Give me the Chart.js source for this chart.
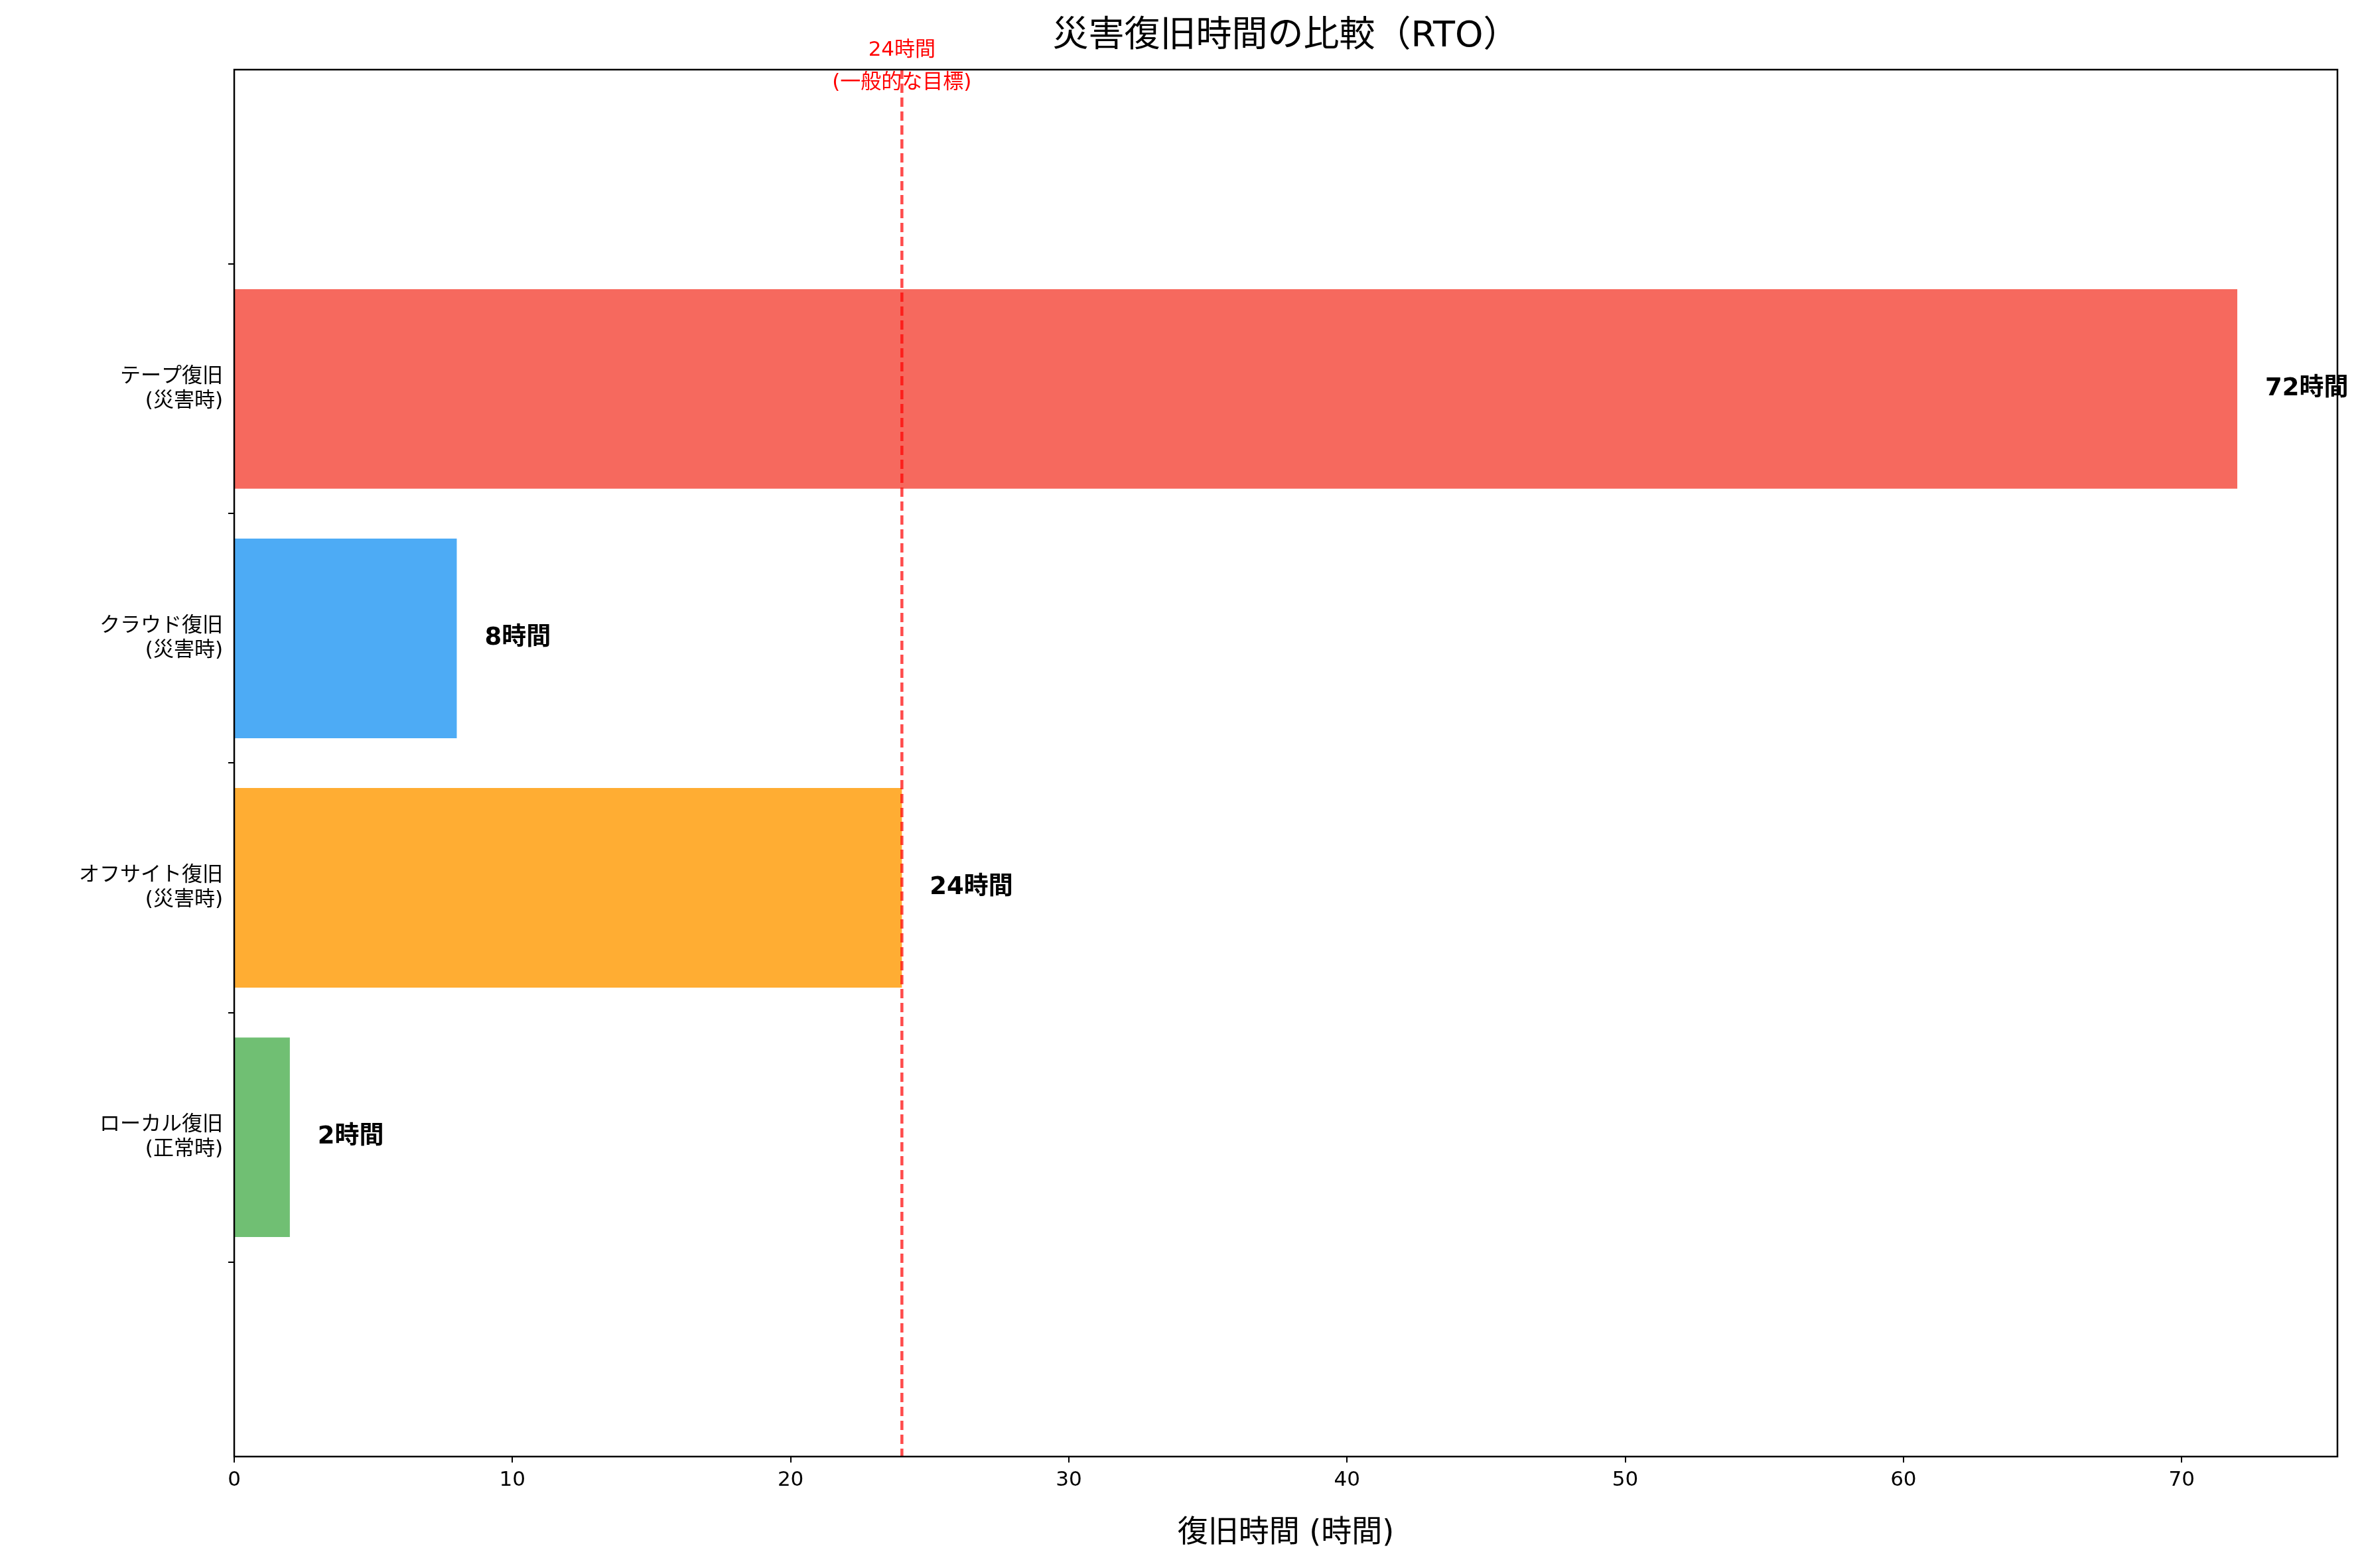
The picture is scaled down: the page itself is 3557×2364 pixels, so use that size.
<!DOCTYPE html>
<html><head><meta charset="utf-8">
<script src="https://cdn.jsdelivr.net/npm/chart.js@4"></script>
<style>body{margin:0;background:#fff}</style></head>
<body><canvas id="c" width="3557" height="2364"></canvas>
<script>
const categories = [["テープ復旧","(災害時)"],["クラウド復旧","(災害時)"],["オフサイト復旧","(災害時)"],["ローカル復旧","(正常時)"]];
const hours = [72, 8, 24, 2];
const valueLabels = ["72時間","8時間","24時間","2時間"];
const barColors = ["rgba(244,67,54,0.8)","rgba(33,150,243,0.8)","rgba(255,152,0,0.8)","rgba(76,175,80,0.8)"];
const targetHours = 24;
const xTicks = [0,10,20,30,40,50,60,70];
const FONT = "'DejaVu Sans','Noto Sans CJK JP',sans-serif";

const deco = {
  id:'deco',
  afterDatasetsDraw(chart){
    const {ctx, chartArea:a, scales:{x,y}} = chart;
    ctx.save();
    ctx.fillStyle='#000'; ctx.font='bold 37px '+FONT; ctx.textBaseline='middle'; ctx.textAlign='left';
    hours.forEach((v,i)=>{ ctx.fillText(valueLabels[i], x.getPixelForValue(v+1), y.getPixelForValue(i)); });
    const tx = x.getPixelForValue(targetHours);
    ctx.strokeStyle='rgba(255,0,0,0.7)'; ctx.lineWidth=4.5; ctx.setLineDash([14,7]);
    ctx.beginPath(); ctx.moveTo(tx,a.top); ctx.lineTo(tx,a.bottom); ctx.stroke();
    ctx.setLineDash([]);
    ctx.strokeStyle='#000'; ctx.lineWidth=2.5; ctx.strokeRect(a.left,a.top,a.right-a.left,a.bottom-a.top);
    ctx.fillStyle='#ff0000'; ctx.font='31px '+FONT; ctx.textAlign='center';
    ctx.fillText('24時間', tx, 76); ctx.fillText('(一般的な目標)', tx, 125);
    ctx.fillStyle='#000'; ctx.font='54px '+FONT;
    ctx.fillText('災害復旧時間の比較（RTO）', (a.left+a.right)/2, 56);
    ctx.restore();
  }
};

new Chart(document.getElementById('c'),{
  type:'bar',
  data:{datasets:[{data:hours.map((v,i)=>({x:v,y:i})),backgroundColor:barColors,barPercentage:0.8,categoryPercentage:1}]},
  options:{
    indexAxis:'y',responsive:false,animation:false,devicePixelRatio:1,
    layout:{padding:{top:105,right:34,bottom:20,left:10}},
    plugins:{legend:{display:false},tooltip:{enabled:false},title:{display:false}},
    scales:{
      x:{type:'linear',min:0,max:75.6,afterBuildTicks(s){s.ticks=xTicks.map(v=>({value:v}));},
        afterFit(s){s.height=148;},
        grid:{drawOnChartArea:false,drawTicks:true,tickLength:9,color:'#000',lineWidth:2},border:{display:false},
        ticks:{color:'#000',font:{size:31,family:FONT},padding:8},
        title:{display:true,text:'復旧時間 (時間)',color:'#000',font:{size:46,family:FONT},padding:{top:8}}},
      y:{type:'linear',reverse:true,min:-0.585,max:3.585,
        afterBuildTicks(s){s.ticks=categories.map((c,i)=>({value:i}));},
        afterFit(s){s.width=343;},
        grid:{drawOnChartArea:false,drawTicks:true,tickLength:9,color:'#000',lineWidth:2},border:{display:false},
        ticks:{color:'#000',font:{size:31,family:FONT,lineHeight:1.2},padding:8,callback:(v)=>categories[v]}}
    }
  },
  plugins:[deco]
});
</script></body></html>
